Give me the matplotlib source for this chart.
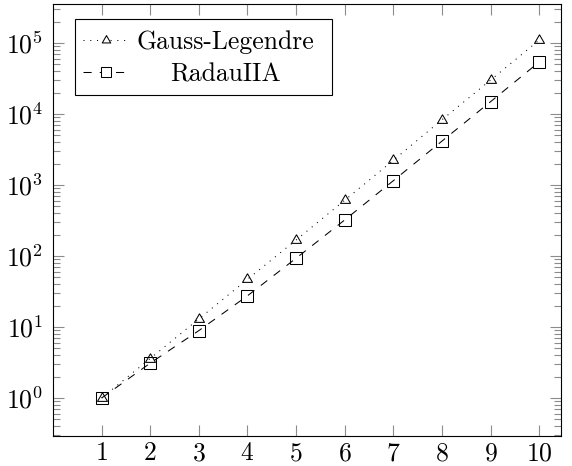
import matplotlib
matplotlib.use("Agg")
import matplotlib.pyplot as plt
from matplotlib.patches import Rectangle
from matplotlib.lines import Line2D

plt.rcParams['font.family'] = 'serif'
plt.rcParams['font.serif'] = ['cmr10']
plt.rcParams['mathtext.fontset'] = 'cm'
plt.rcParams['axes.formatter.use_mathtext'] = True

# data
stages = [1, 2, 3, 4, 5, 6, 7, 8, 9, 10]
gauss = [1, 3.6, 13, 47, 168, 610, 2230, 8300, 30000, 110000]
radau = [1, 3.1, 8.9, 27.5, 93, 322, 1150, 4150, 14900, 54000]
labels = ['Gauss-Legendre', 'RadauIIA']

W, H = 572, 466
L, R, T, B = 53, 561, 4, 436

fig = plt.figure(figsize=(W/100, H/100), dpi=100)
ax = fig.add_axes([L/W, 1-B/H, (R-L)/W, (B-T)/H])

tri = [(0, 1), (-0.866, -0.5), (0.866, -0.5), (0, 1)]
dotted = (0, (1, 5.5))
dashed = (0, (7.8, 7.8))
lw = 0.75
ms = 8.3

ax.plot(stages, gauss, color='black', linestyle=dotted, linewidth=lw,
        marker=tri, markersize=ms, markerfacecolor='none', markeredgewidth=lw)
ax.plot(stages, radau, color='black', linestyle=dashed, linewidth=lw,
        marker='s', markersize=ms, markerfacecolor='none', markeredgewidth=lw)

ax.set_yscale('log')
ax.set_xlim(0, 10.45)
ax.set_ylim(10**-0.535, 10**5.55)
ax.set_xticks(stages)
ax.set_yticks([10**k for k in range(6)])
ax.tick_params(which='both', direction='in', top=True, right=True,
               color='0.55', width=0.8, labelsize=18.5)
ax.tick_params(which='major', length=7.9)
ax.tick_params(axis='x', pad=4)
ax.tick_params(axis='y', pad=7)
ax.tick_params(which='minor', length=5.3)
ax.tick_params(axis='x', which='minor', bottom=False, top=False)
for s in ax.spines.values():
    s.set_linewidth(0.8)


def axc(x, y):
    return (x - L) / (R - L), (B - y) / (B - T)


# legend, pgfplots style with centred text
x0, y0 = axc(75, 95)
x1, y1 = axc(332, 19)
ax.add_patch(Rectangle((x0, y0), x1 - x0, y1 - y0, transform=ax.transAxes,
                       facecolor='white', edgecolor='black', linewidth=0.8,
                       zorder=5))
rows = [(40, labels[0], dotted, tri), (72, labels[1], dashed, 's')]
for yp, lab, ls, mk in rows:
    xa, yy = axc(83, yp)
    xb, _ = axc(129, yp)
    xm, _ = axc(106, yp)
    xt, _ = axc(225, yp)
    ax.add_line(Line2D([xa, xb], [yy, yy], transform=ax.transAxes,
                       color='black', linestyle=ls, linewidth=lw, zorder=6))
    ax.add_line(Line2D([xm], [yy], transform=ax.transAxes, color='black',
                       marker=mk, markersize=ms * 0.85, markerfacecolor='white',
                       markeredgewidth=lw, zorder=7))
    ax.text(xt, yy, lab, transform=ax.transAxes, ha='center', va='center_baseline',
            fontsize=18.5, zorder=7)

fig.savefig('out.png', dpi=100)
